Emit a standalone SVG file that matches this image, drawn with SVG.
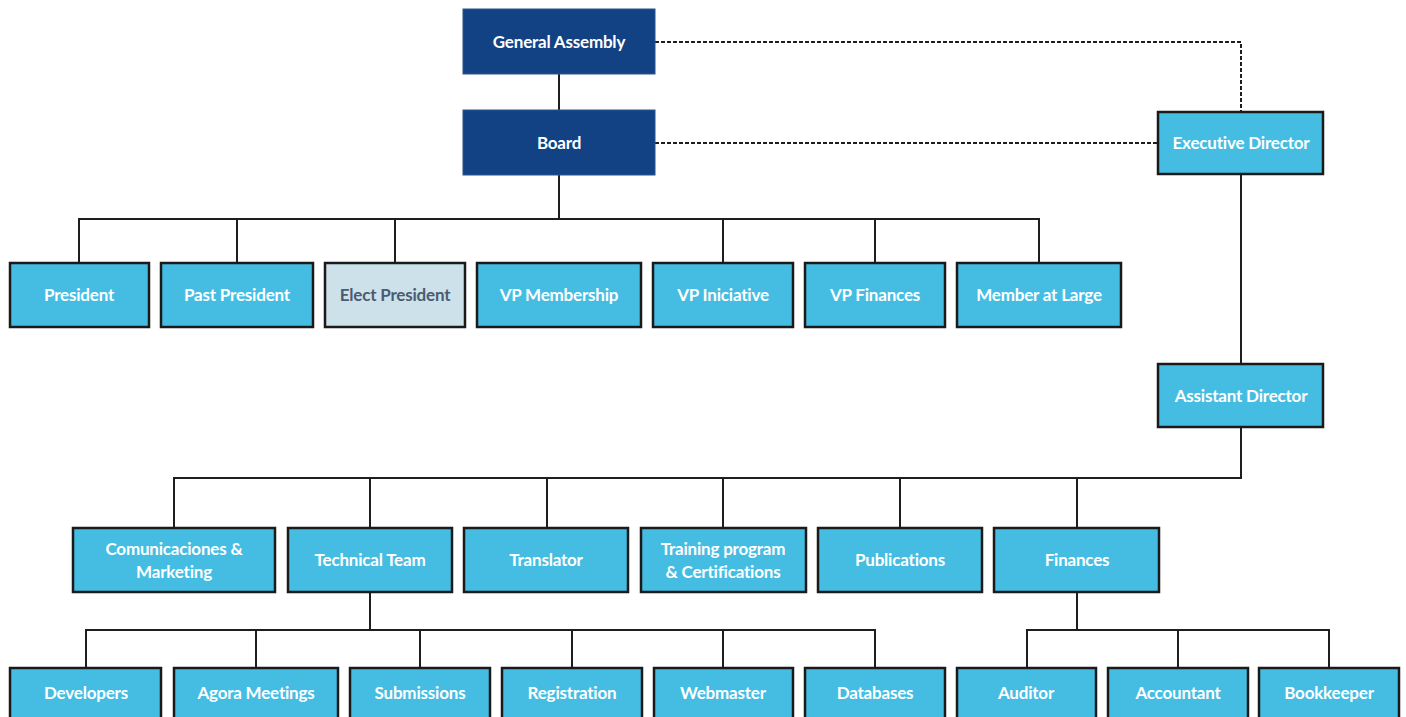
<svg xmlns="http://www.w3.org/2000/svg" width="1406" height="717" viewBox="0 0 1406 717">
<style>
.dk{fill:#124284;stroke:#2a5592;stroke-width:1}
.lt{fill:#45bde2;stroke:#1a1a1a;stroke-width:2.5}
.gr{fill:#cde1ea;stroke:#1a1a1a;stroke-width:2.5}
text{font-family:Lato,"Open Sans","Liberation Sans",sans-serif;font-size:17px;font-weight:bold;fill:#ffffff;text-anchor:middle;dominant-baseline:central;letter-spacing:-0.2px}
.gt{fill:#4b5b72}
.ln{fill:none;stroke:#1e1e1e;stroke-width:2}
.ds{fill:none;stroke:#1e1e1e;stroke-width:2;stroke-dasharray:4 2}
</style>
<rect width="1406" height="717" fill="#ffffff"/>
<g id="connectors">
<path class="ds" d="M655 42 H1241 V112"/>
<path class="ds" d="M655 143 H1158"/>
<path class="ln" d="M559 74 V110"/>
<path class="ln" d="M559 175 V219 M79 263 V219 H1039 V263 M237 219 V263 M395 219 V263 M723 219 V263 M875 219 V263"/>
<path class="ln" d="M1241 174 V364"/>
<path class="ln" d="M1241 427 V478 H174 V528 M370 478 V528 M547 478 V528 M723 478 V528 M900 478 V528 M1077 478 V528"/>
<path class="ln" d="M370 592 V630 M86 668 V630 H875 V668 M256 630 V668 M420 630 V668 M572 630 V668 M723 630 V668"/>
<path class="ln" d="M1077 592 V630 M1027 668 V630 H1329 V668 M1178 630 V668"/>
</g>
<g id="general-assembly"><rect class="dk" x="463" y="9" width="192" height="65"/><text x="559" y="41">General Assembly</text></g>
<g id="board"><rect class="dk" x="463" y="110" width="192" height="65"/><text x="559" y="142">Board</text></g>
<g id="executive-director"><rect class="lt" x="1158" y="112" width="165" height="62"/><text x="1241" y="142">Executive Director</text></g>
<g id="president"><rect class="lt" x="10" y="263" width="139" height="64"/><text x="79" y="294">President</text></g>
<g id="past-president"><rect class="lt" x="161" y="263" width="152" height="64"/><text x="237" y="294">Past President</text></g>
<g id="elect-president"><rect class="gr" x="325" y="263" width="140" height="64"/><text class="gt" x="395" y="294">Elect President</text></g>
<g id="vp-membership"><rect class="lt" x="477" y="263" width="164" height="64"/><text x="559" y="294">VP Membership</text></g>
<g id="vp-iniciative"><rect class="lt" x="653" y="263" width="140" height="64"/><text x="723" y="294">VP Iniciative</text></g>
<g id="vp-finances"><rect class="lt" x="805" y="263" width="140" height="64"/><text x="875" y="294">VP Finances</text></g>
<g id="member-at-large"><rect class="lt" x="957" y="263" width="164" height="64"/><text x="1039" y="294">Member at Large</text></g>
<g id="assistant-director"><rect class="lt" x="1158" y="364" width="165" height="63"/><text x="1241" y="395">Assistant Director</text></g>
<g id="comunicaciones"><rect class="lt" x="73" y="528" width="202" height="64"/><text x="174" y="548">Comunicaciones &amp;</text><text x="174" y="571">Marketing</text></g>
<g id="technical-team"><rect class="lt" x="288" y="528" width="164" height="64"/><text x="370" y="559">Technical  Team</text></g>
<g id="translator"><rect class="lt" x="464" y="528" width="164" height="64"/><text x="546" y="559">Translator</text></g>
<g id="training"><rect class="lt" x="641" y="528" width="165" height="64"/><text x="723" y="548">Training  program</text><text x="723" y="571">&amp; Certifications</text></g>
<g id="publications"><rect class="lt" x="818" y="528" width="164" height="64"/><text x="900" y="559">Publications</text></g>
<g id="finances"><rect class="lt" x="994" y="528" width="165" height="64"/><text x="1077" y="559">Finances</text></g>
<g id="developers"><rect class="lt" x="10" y="668" width="151" height="64"/><text x="86" y="692">Developers</text></g>
<g id="agora-meetings"><rect class="lt" x="174" y="668" width="164" height="64"/><text x="256" y="692">Agora Meetings</text></g>
<g id="submissions"><rect class="lt" x="350" y="668" width="140" height="64"/><text x="420" y="692">Submissions</text></g>
<g id="registration"><rect class="lt" x="502" y="668" width="140" height="64"/><text x="572" y="692">Registration</text></g>
<g id="webmaster"><rect class="lt" x="654" y="668" width="139" height="64"/><text x="723" y="692">Webmaster</text></g>
<g id="databases"><rect class="lt" x="805" y="668" width="140" height="64"/><text x="875" y="692">Databases</text></g>
<g id="auditor"><rect class="lt" x="957" y="668" width="139" height="64"/><text x="1026" y="692">Auditor</text></g>
<g id="accountant"><rect class="lt" x="1108" y="668" width="140" height="64"/><text x="1178" y="692">Accountant</text></g>
<g id="bookkeeper"><rect class="lt" x="1259" y="668" width="140" height="64"/><text x="1329" y="692">Bookkeeper</text></g>
</svg>
